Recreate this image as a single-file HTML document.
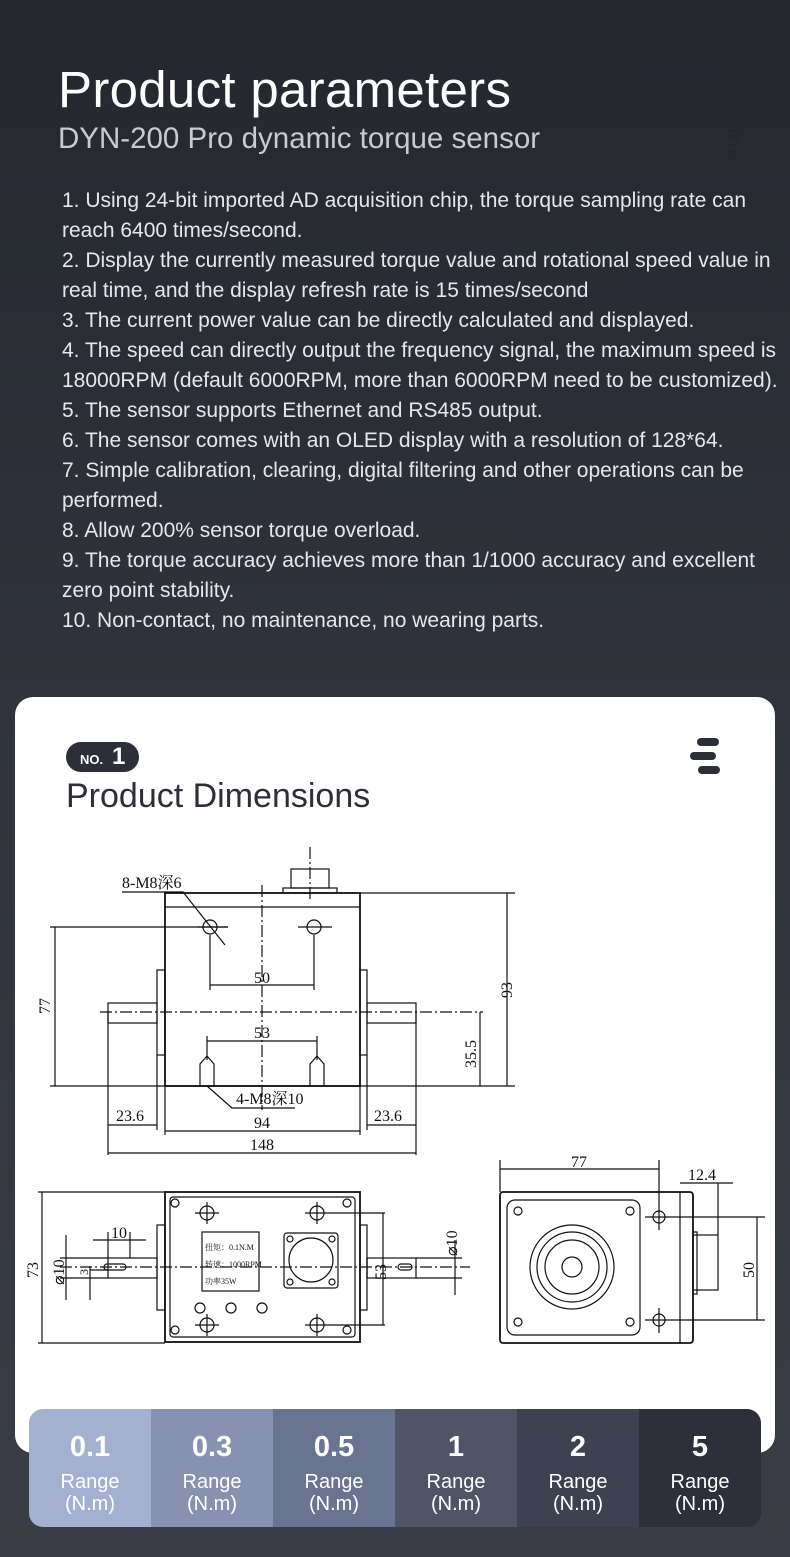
<!DOCTYPE html>
<html><head><meta charset="utf-8"><style>
*{margin:0;padding:0;box-sizing:border-box}
body{width:790px;height:1557px;overflow:hidden;background:linear-gradient(180deg,#24272e 0%,#2f323a 40%,#3a3d45 100%);font-family:"Liberation Sans","Noto Sans CJK SC",sans-serif;position:relative}
.t1{position:absolute;left:58px;top:60px;font-size:51px;color:#fff;letter-spacing:0.3px}
.t2{position:absolute;left:58px;top:122px;font-size:29.5px;color:#c9cbd0}
.fn{position:absolute;left:722px;top:66px;font-size:17px;color:#24272d;writing-mode:vertical-rl;letter-spacing:1px}
.list{position:absolute;left:62px;top:186px;width:722px;font-size:21px;line-height:30px;color:#e6e7ea}
.card{position:absolute;left:15px;top:697px;width:760px;height:756px;background:#fff;border-radius:18px}
.badge{position:absolute;left:66px;top:742px;width:73px;height:30px;background:#2c2f38;border-radius:15px;color:#fff;font-weight:bold}
.badge .a{position:absolute;left:14px;top:10px;font-size:13px}
.badge .b{position:absolute;left:46px;top:1px;font-size:24px}
.pd{position:absolute;left:66px;top:777px;font-size:34px;color:#2c2f38}
.bar{position:absolute;left:29px;top:1409px;width:732px;height:118px;border-radius:14px;overflow:hidden;display:flex}
.bar div{flex:1;color:#fff;text-align:center}
.bar b{display:block;font-size:29px;margin-top:22px;height:40px}
.bar span{display:block;font-size:20px;line-height:22px}
</style></head><body>
<div class="t1">Product parameters</div>
<div class="t2">DYN-200 Pro dynamic torque sensor</div>
<div class="fn">FUNCTION</div>
<div class="list">1. Using 24-bit imported AD acquisition chip, the torque sampling rate can reach 6400 times/second.<br>2. Display the currently measured torque value and rotational speed value in real time, and the display refresh rate is 15 times/second<br>3. The current power value can be directly calculated and displayed.<br>4. The speed can directly output the frequency signal, the maximum speed is 18000RPM (default 6000RPM, more than 6000RPM need to be customized).<br>5. The sensor supports Ethernet and RS485 output.<br>6. The sensor comes with an OLED display with a resolution of 128*64.<br>7. Simple calibration, clearing, digital filtering and other operations can be performed.<br>8. Allow 200% sensor torque overload.<br>9. The torque accuracy achieves more than 1/1000 accuracy and excellent zero point stability.<br>10. Non-contact, no maintenance, no wearing parts.</div>
<div class="card"></div>
<div class="badge"><span class="a">NO.</span><span class="b">1</span></div>
<svg style="position:absolute;left:690px;top:738px" width="40" height="36"><rect x="7" y="0" width="22" height="8" rx="4" fill="#2c2f38"/><rect x="0" y="14" width="26" height="8" rx="4" fill="#2c2f38"/><rect x="8" y="28" width="22" height="8" rx="4" fill="#2c2f38"/></svg>
<div class="pd">Product Dimensions</div>
<svg style="position:absolute;left:0;top:0" width="790" height="1557" font-family="Liberation Serif,Noto Serif CJK SC,serif" font-size="16" fill="none" stroke="#111" stroke-width="1.2">
<!-- top view -->
<rect x="165" y="893" width="195" height="193" stroke-width="1.8"/>
<line x1="165" y1="907" x2="360" y2="907"/>
<rect x="283" y="888" width="54" height="5"/><rect x="291" y="869" width="38" height="19"/>
<line x1="310" y1="847" x2="310" y2="900" stroke-dasharray="12 3 2 3"/>
<circle cx="210" cy="927" r="7"/><circle cx="314" cy="927" r="7"/>
<line x1="198" y1="927" x2="228" y2="927"/><line x1="298" y1="927" x2="332" y2="927"/>
<rect x="157" y="970" width="8" height="85"/><rect x="360" y="970" width="7" height="85"/>
<rect x="108" y="1003" width="49" height="20"/><rect x="367" y="1003" width="49" height="20"/>
<line x1="100" y1="1012" x2="483" y2="1012" stroke-dasharray="12 3 2 3"/>
<line x1="262" y1="885" x2="262" y2="1110" stroke-dasharray="12 3 2 3"/>
<line x1="50" y1="1086" x2="515" y2="1086"/>
<line x1="360" y1="893" x2="515" y2="893"/>
<line x1="50" y1="927" x2="228" y2="927"/>
<line x1="55" y1="927" x2="55" y2="1086"/><line x1="507" y1="893" x2="507" y2="1086"/>
<line x1="480" y1="1012" x2="480" y2="1086"/>
<line x1="210" y1="935" x2="210" y2="990"/><line x1="314" y1="935" x2="314" y2="990"/>
<line x1="210" y1="985" x2="314" y2="985"/>
<line x1="207" y1="1036" x2="207" y2="1060"/><line x1="317" y1="1036" x2="317" y2="1060"/>
<line x1="207" y1="1041" x2="317" y2="1041"/>
<path d="M200 1086V1064l7-8 7 8v22M310 1086V1064l7-8 7 8v22"/>
<path d="M122 892H183L225 945"/>
<path d="M207 1086L232 1108H295"/>
<path d="M108 1012V1155M157 1055V1130M165 1086V1135M360 1086V1135M367 1055V1130M416 1012V1155"/>
<line x1="108" y1="1125" x2="157" y2="1125"/><line x1="367" y1="1125" x2="416" y2="1125"/>
<line x1="165" y1="1131" x2="360" y2="1131"/><line x1="108" y1="1153" x2="416" y2="1153"/>
<g fill="#111" stroke="none">
<text x="122" y="888">8-M8深6</text><text x="236" y="1104">4-M8深10</text>
<text x="254" y="983">50</text><text x="254" y="1038">53</text>
<text x="116" y="1121">23.6</text><text x="374" y="1121">23.6</text>
<text x="254" y="1128">94</text><text x="250" y="1150">148</text>
<text transform="translate(50,1014) rotate(-90)">77</text>
<text transform="translate(512,998) rotate(-90)">93</text>
<text transform="translate(476,1068) rotate(-90)">35.5</text>
</g>
<!-- bottom left view -->
<rect x="165" y="1192" width="195" height="150" stroke-width="1.8"/>
<rect x="170" y="1197" width="185" height="140" rx="3"/>
<circle cx="175" cy="1203" r="4"/><circle cx="347" cy="1203" r="4"/><circle cx="175" cy="1330" r="4"/><circle cx="347" cy="1330" r="4"/>
<circle cx="207" cy="1213" r="7"/><circle cx="317" cy="1213" r="7"/><circle cx="207" cy="1325" r="7"/><circle cx="317" cy="1325" r="7"/>
<path d="M195 1213h24M305 1213h80M195 1325h24M305 1325h80M207 1202v22M317 1202v22M207 1314v22M317 1314v22"/>
<rect x="202" y="1232" width="57" height="59"/>
<rect x="284" y="1233" width="54" height="55" rx="3"/><circle cx="311" cy="1260" r="22"/>
<circle cx="290" cy="1239" r="3"/><circle cx="332" cy="1239" r="3"/><circle cx="290" cy="1282" r="3"/><circle cx="332" cy="1282" r="3"/>
<circle cx="200" cy="1308" r="5"/><circle cx="231" cy="1308" r="5"/><circle cx="262" cy="1308" r="5"/>
<rect x="157" y="1225" width="8" height="85"/><rect x="360" y="1225" width="7" height="85"/>
<rect x="108" y="1258" width="49" height="20"/><rect x="367" y="1258" width="49" height="20"/>
<rect x="104" y="1264" width="22" height="6" rx="3"/><rect x="398" y="1264" width="14" height="6" rx="3"/>
<line x1="60" y1="1267" x2="470" y2="1267" stroke-dasharray="12 3 2 3"/>
<path d="M38 1192H165M38 1343H165M42 1192V1343"/>
<path d="M60 1258H108M60 1278H108M66 1235V1300"/>
<path d="M90 1266V1300M90 1270H108"/>
<path d="M93 1240H146M108 1232V1258M130 1232V1258"/>
<path d="M383 1213V1325M367 1258V1278"/>
<path d="M416 1258H462M416 1278H462M455 1240V1295"/>
<g fill="#111" stroke="none">
<text transform="translate(38,1278) rotate(-90)">73</text>
<text transform="translate(64,1285) rotate(-90)">⌀10</text>
<text transform="translate(88,1275) rotate(-90)" font-size="12">3</text>
<text x="111" y="1238">10</text>
<text transform="translate(386,1280) rotate(-90)">53</text>
<text transform="translate(457,1256) rotate(-90)">⌀10</text>
<text x="205" y="1250" font-size="8">扭矩：0.1N.M</text>
<text x="205" y="1267" font-size="8">转速：1000RPM</text>
<text x="205" y="1284" font-size="8">功率35W</text>
</g>
<!-- right view -->
<rect x="500" y="1192" width="193" height="151" rx="3" stroke-width="1.8"/>
<line x1="680" y1="1192" x2="680" y2="1343"/>
<rect x="507" y="1200" width="133" height="135" rx="8"/>
<circle cx="572" cy="1267" r="42"/><circle cx="572" cy="1267" r="35"/><circle cx="572" cy="1267" r="27"/><circle cx="572" cy="1267" r="10"/>
<circle cx="518" cy="1211" r="4"/><circle cx="630" cy="1211" r="4"/><circle cx="518" cy="1322" r="4"/><circle cx="630" cy="1322" r="4"/>
<circle cx="659" cy="1217" r="6"/><circle cx="659" cy="1320" r="6"/>
<path d="M659 1205v25M659 1308v25M645 1217H765M645 1320H765"/>
<rect x="693" y="1235" width="25" height="55"/><rect x="693" y="1232" width="4" height="62"/>
<path d="M500 1160V1192M659 1160V1205M500 1169H659"/>
<path d="M680 1183H733M718 1183V1235"/>
<path d="M757 1217V1320"/>
<g fill="#111" stroke="none">
<text x="571" y="1167">77</text><text x="688" y="1180">12.4</text>
<text transform="translate(754,1278) rotate(-90)">50</text>
</g>
</svg>
<div class="bar">
<div style="background:#a4b0cf"><b>0.1</b><span>Range</span><span>(N.m)</span></div>
<div style="background:#8692b0"><b>0.3</b><span>Range</span><span>(N.m)</span></div>
<div style="background:#687490"><b>0.5</b><span>Range</span><span>(N.m)</span></div>
<div style="background:#4f5567"><b>1</b><span>Range</span><span>(N.m)</span></div>
<div style="background:#3e4250"><b>2</b><span>Range</span><span>(N.m)</span></div>
<div style="background:#2d303a"><b>5</b><span>Range</span><span>(N.m)</span></div>
</div>
</body></html>
